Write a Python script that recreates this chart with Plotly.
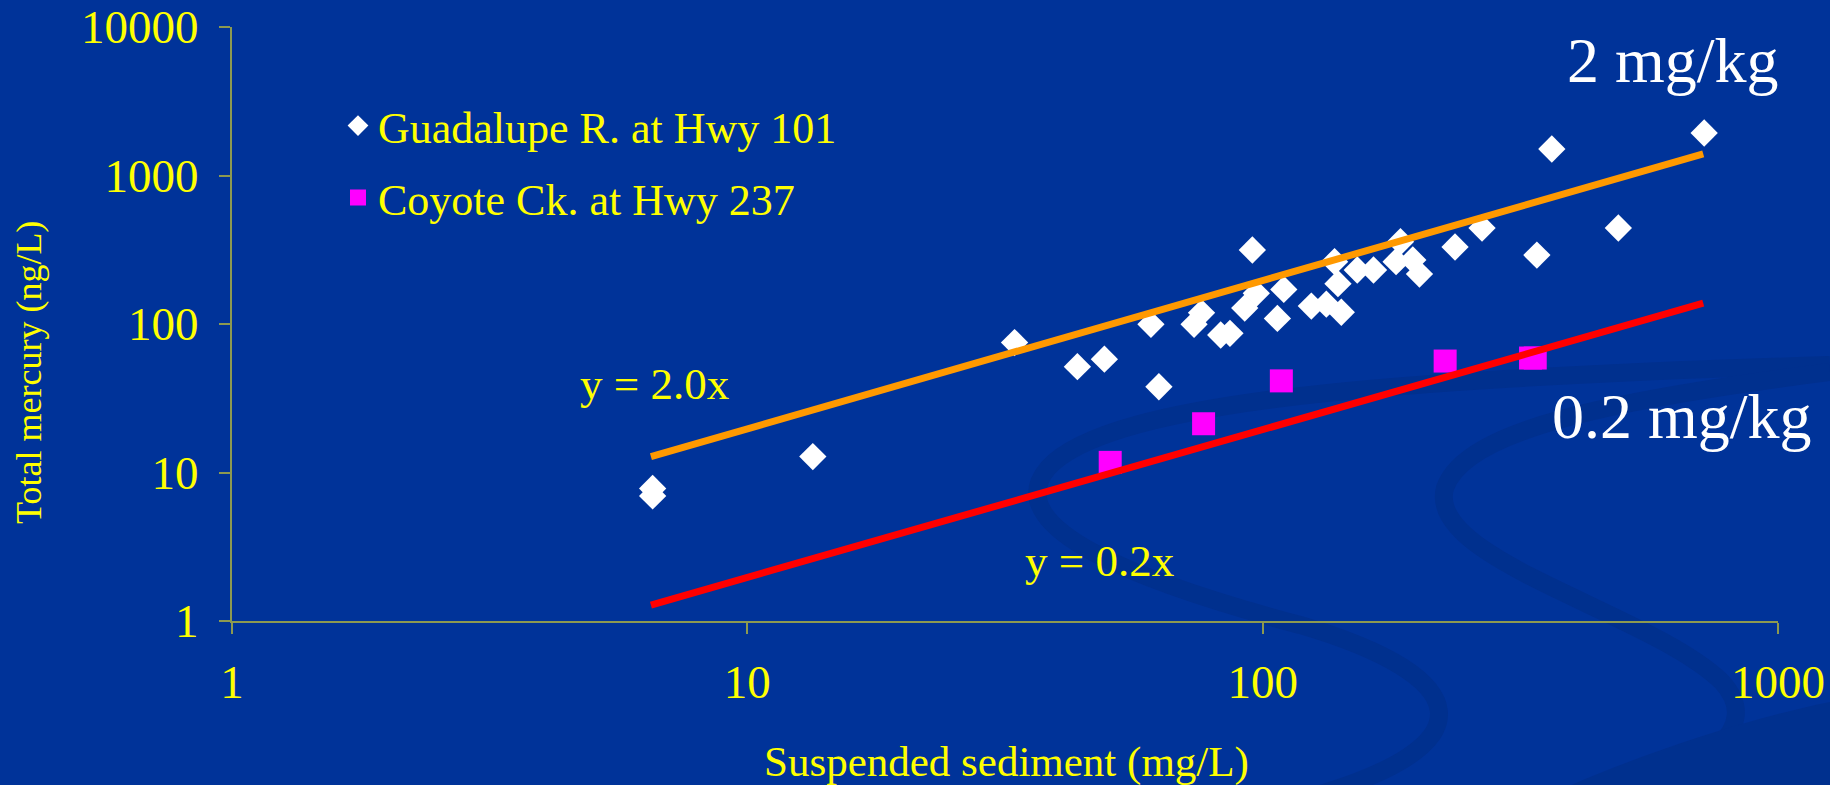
import plotly.graph_objects as go

# ---------------- data ----------------
guad_x = [6.55, 6.55, 13.4, 33.0, 43.7, 49.3, 60.7, 62.9, 73.6, 76.1, 82.9, 86.4,
          92.3, 95.5, 97.2, 106.8, 109.9, 124.3, 132.9, 142.1, 137.9, 140.0, 152.6,
          164.1, 181.5, 185.1, 195.6, 201.5, 236.2, 266.5, 340.5, 364.0, 490.0, 719.0]
guad_y = [7.8, 6.95, 12.8, 75, 51.6, 58, 99.5, 37.8, 99.5, 119, 84.3, 86.5,
          128, 315, 161, 109, 171, 132, 136, 120, 263, 187, 231,
          231, 263, 358, 270, 217, 330, 443, 291, 1508, 443, 1933]

coy_x = [50.6, 76.8, 108.7, 226.0, 331.0, 338.0]
coy_y = [11.7, 21.3, 41.4, 56.3, 59.0, 59.0]

fit_x = [6.5, 716]
fit_hi = [12.8, 1400]   # y = 2.0x  (2 mg/kg)
fit_lo = [1.28, 138]    # y = 0.2x  (0.2 mg/kg)

x_ticks = [1, 10, 100, 1000]
y_ticks = [1, 10, 100, 1000, 10000]

series_names = ["Guadalupe R. at Hwy 101", "Coyote Ck. at Hwy 237"]

# ---------------- styling ----------------
W, H = 1830, 785
L, R, T, B = 232, 1778, 27, 621          # plot area in pixels
BG = "#003399"
AX = "#8C9A50"
YEL = "#FFFF00"
SERIF = "Liberation Serif, Times New Roman, serif"


def px(X):
    return (X - L) / (R - L)


def py(Y):
    return (B - Y) / (B - T)


def path(cmds):
    out = []
    for c in cmds:
        if isinstance(c, str):
            out.append(c)
        else:
            out.append(f"{px(c[0]):.4f},{py(c[1]):.4f}")
    return " ".join(out)


fig = go.Figure()

fig.add_trace(go.Scatter(
    x=guad_x, y=guad_y, mode="markers", name=series_names[0],
    marker=dict(symbol="diamond", size=21, color="white", line=dict(width=0)),
    legend="legend",
))
fig.add_trace(go.Scatter(
    x=coy_x, y=coy_y, mode="markers", name=series_names[1],
    marker=dict(symbol="square", size=23, color="#FF00FF", line=dict(width=0)),
    legend="legend2",
))
fig.add_trace(go.Scatter(
    x=fit_x, y=fit_hi, mode="lines", showlegend=False,
    line=dict(color="#FF9900", width=7),
))
fig.add_trace(go.Scatter(
    x=fit_x, y=fit_lo, mode="lines", showlegend=False,
    line=dict(color="#FF0000", width=7),
))

# decorative background swooshes (subtle)
SW = "#00308E"
shapes = [
    dict(type="path", xref="paper", yref="paper", layer="below",
         path=path(["M", (1830, 365), "C", (1400, 378), (1110, 400), (1048, 468),
                    "C", (995, 530), (1150, 585), (1300, 625),
                    "C", (1470, 675), (1500, 745), (1300, 800)]),
         line=dict(color=SW, width=18)),
    dict(type="path", xref="paper", yref="paper", layer="below",
         path=path(["M", (1830, 372), "C", (1610, 400), (1465, 430), (1445, 488),
                    "C", (1425, 560), (1650, 612), (1722, 682),
                    "C", (1765, 730), (1700, 765), (1640, 795)]),
         line=dict(color=SW, width=18)),
    dict(type="path", xref="paper", yref="paper", layer="below",
         path=path(["M", (1560, 790), "C", (1650, 750), (1760, 715), (1840, 700),
                    "L", (1840, 790), "Z"]),
         fillcolor=SW, line=dict(width=0)),
]

annotations = [
    dict(text="Total mercury (ng/L)", x=px(29), y=py(373), textangle=-90,
         font=dict(size=36, color=YEL, family=SERIF)),
    dict(text="Suspended sediment (mg/L)", x=px(1006), y=py(762),
         font=dict(size=43, color=YEL, family=SERIF)),
    dict(text="y = 2.0x", x=px(654), y=py(384),
         font=dict(size=45, color=YEL, family=SERIF)),
    dict(text="y = 0.2x", x=px(1099), y=py(561),
         font=dict(size=45, color=YEL, family=SERIF)),
    dict(text="2 mg/kg", x=px(1673), y=py(61),
         font=dict(size=64, color="white", family=SERIF)),
    dict(text="0.2 mg/kg", x=px(1682), y=py(416),
         font=dict(size=64, color="white", family=SERIF)),
]
for a in annotations:
    a.update(xref="paper", yref="paper", showarrow=False,
             xanchor="center", yanchor="middle")

axis_common = dict(
    type="log", showgrid=False, zeroline=False,
    showline=True, linecolor=AX, linewidth=2,
    ticks="outside", ticklen=11, tickwidth=2, tickcolor=AX,
    tickfont=dict(size=47, color=YEL, family=SERIF),
)

legend_common = dict(
    xanchor="left", yanchor="middle", bgcolor="rgba(0,0,0,0)",
    font=dict(size=44, color=YEL, family=SERIF), borderwidth=0,
)

fig.update_layout(
    width=W, height=H,
    margin=dict(l=L, r=W - R, t=T, b=H - B, autoexpand=False),
    paper_bgcolor=BG, plot_bgcolor=BG,
    xaxis=dict(axis_common, range=[0, 3], tickvals=x_ticks,
               ticktext=[str(v) for v in x_ticks], ticklabelstandoff=8),
    yaxis=dict(axis_common, range=[0, 4], tickvals=y_ticks,
               ticktext=[str(v) for v in y_ticks], ticklabelstandoff=11),
    legend=dict(legend_common, x=px(338), y=py(126)),
    legend2=dict(legend_common, x=px(338), y=py(198)),
    shapes=shapes,
    annotations=annotations,
    showlegend=True,
)

fig.write_html(
    "out.html",
    config={"displayModeBar": False},
    post_script="document.body.style.margin='0';document.body.style.overflow='hidden';",
)
